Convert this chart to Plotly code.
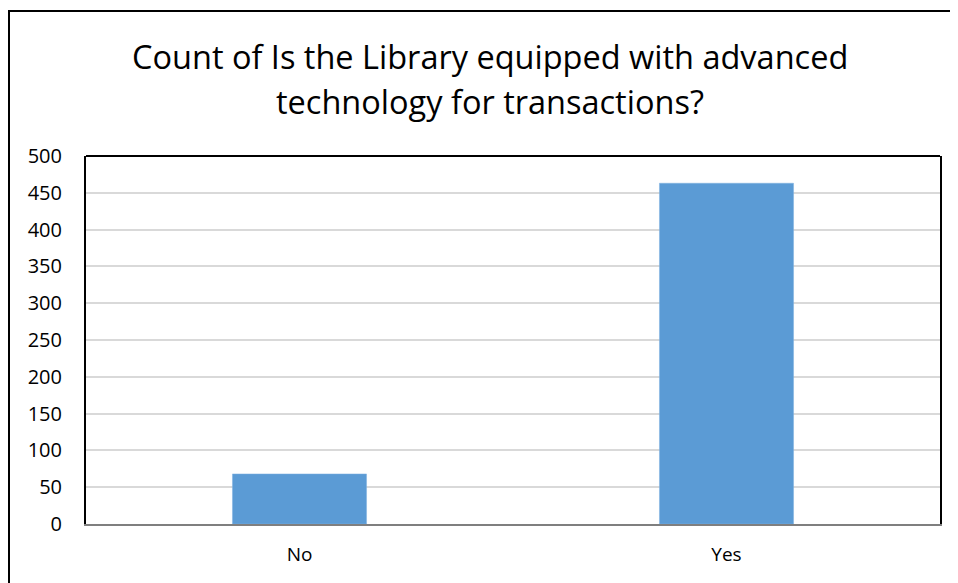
import plotly.graph_objects as go

categories = ["No", "Yes"]
counts = [68, 463]
y_ticks = [0, 50, 100, 150, 200, 250, 300, 350, 400, 450, 500]
title_lines = ["Count of Is the Library equipped with advanced",
               "technology for transactions?"]

OFF = 8  # page body margin
W, H = 958 - OFF, 583 - OFF
L, R, T, B = 86 - OFF, 18, 156 - OFF, 59
pw, ph = W - L - R, H - T - B

fig = go.Figure(go.Bar(
    x=categories, y=counts,
    marker=dict(color="#5b9bd5", line=dict(color="#7fb0e0", width=0.5)),
    width=0.314,
))

title_y_page = [57, 102]
annotations = [
    dict(text=t, xref="paper", yref="paper",
         x=(490 - 86) / pw, y=1 + (156 - yp) / ph,
         xanchor="center", yanchor="middle", showarrow=False,
         font=dict(size=32.5, family="Open Sans", color="black"))
    for t, yp in zip(title_lines, title_y_page)
]

fig.update_layout(
    width=W, height=H,
    margin=dict(l=L, r=R, t=T, b=B),
    paper_bgcolor="white", plot_bgcolor="white",
    font=dict(family="Open Sans", color="black"),
    showlegend=False,
    annotations=annotations,
    xaxis=dict(
        showline=True, linecolor="#7f7f7f", linewidth=2,
        showgrid=False, ticks="", tickfont=dict(size=19),
        ticklabelstandoff=12,
    ),
    yaxis=dict(
        range=[0, 500], tickvals=y_ticks,
        showline=True, linecolor="black", linewidth=2, mirror=True,
        showgrid=True, gridcolor="#d9d9d9", gridwidth=2,
        zeroline=False, ticks="", tickfont=dict(size=20),
        ticklabelstandoff=18,
    ),
    shapes=[
        dict(type="line", xref="paper", yref="paper", x0=0, x1=1, y0=1, y1=1,
             line=dict(color="black", width=2)),
        dict(type="rect", xref="paper", yref="paper",
             x0=(9 - 86) / pw, x1=(W + 20 - L) / pw,
             y0=-(B + 20) / ph, y1=1 + (156 - 11) / ph,
             line=dict(color="black", width=2), fillcolor="rgba(0,0,0,0)"),
    ],
)

fig.write_html("out.html")
